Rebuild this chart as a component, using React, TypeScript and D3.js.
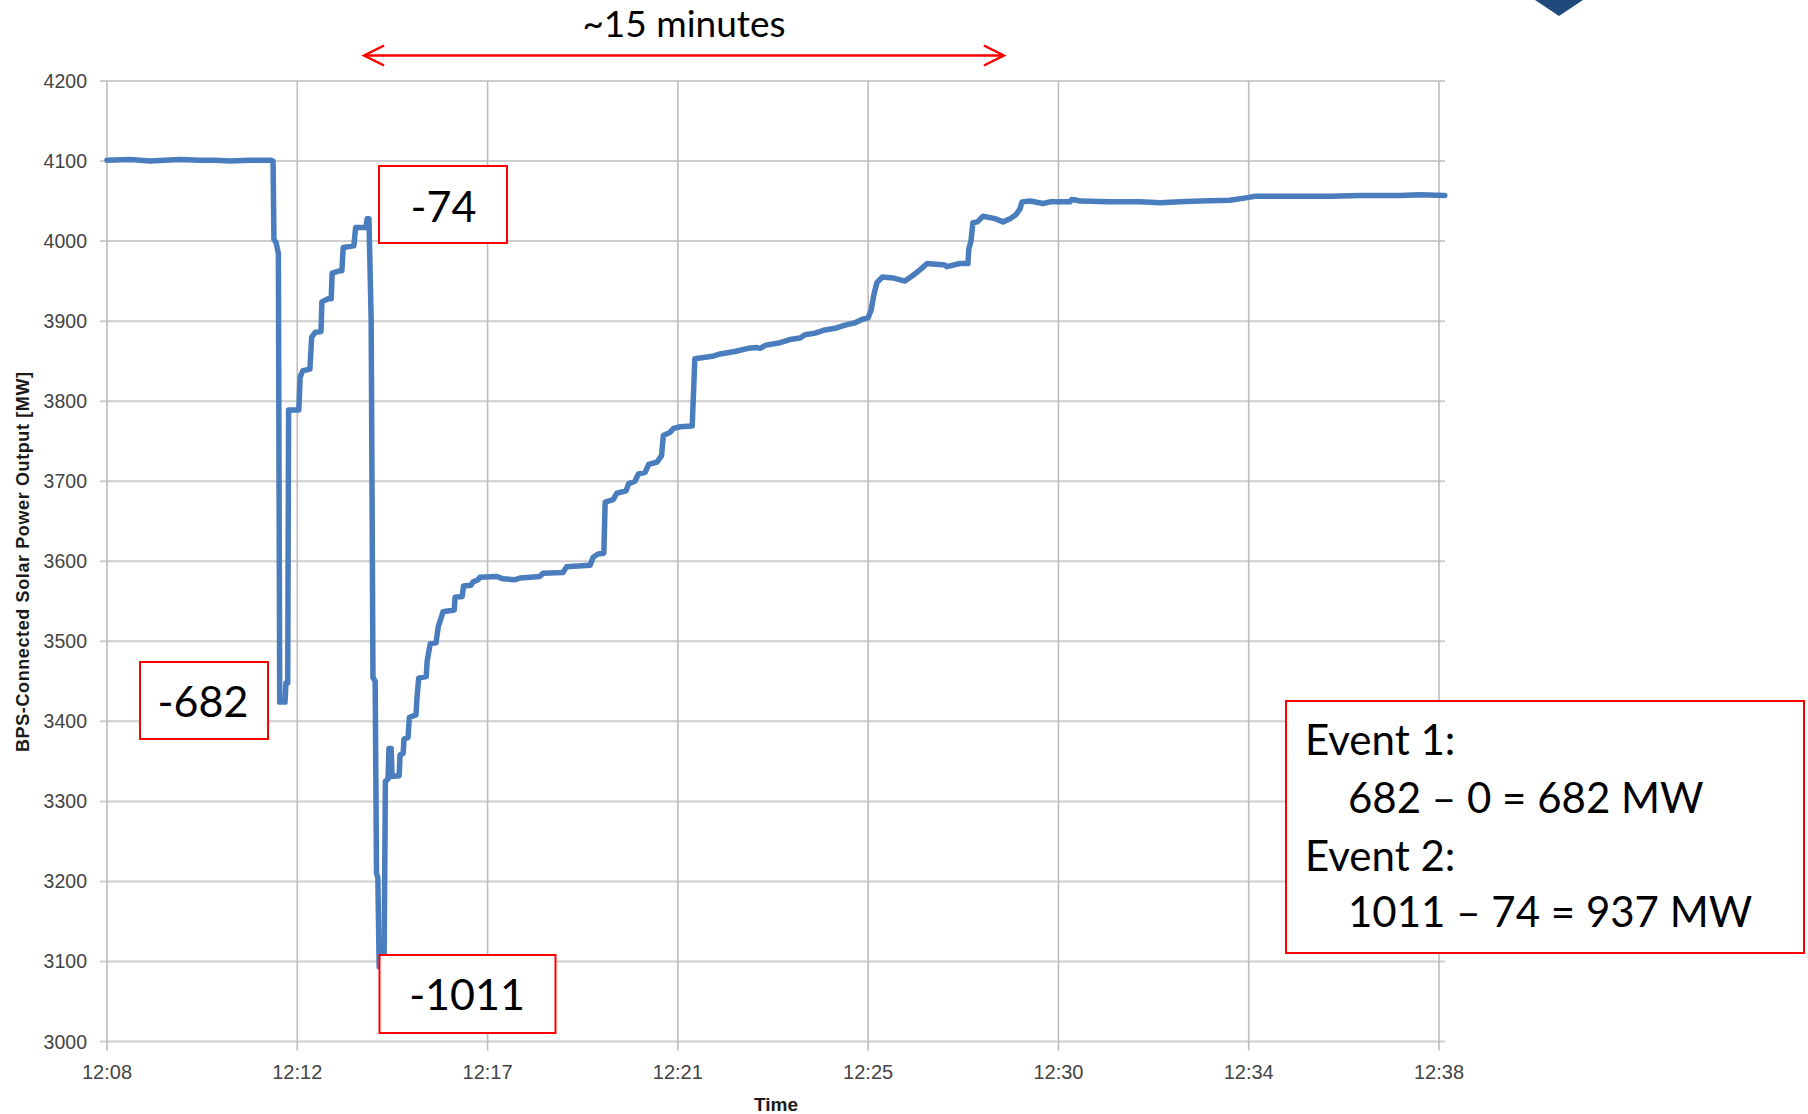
import React from "react";
import * as d3 from "d3";

// ---------- data ----------
const timeTickLabels = ["12:08", "12:12", "12:17", "12:21", "12:25", "12:30", "12:34", "12:38"];
const powerTicks = [3000, 3100, 3200, 3300, 3400, 3500, 3600, 3700, 3800, 3900, 4000, 4100, 4200];

// minutes after 12:08
const minutes = [
  0, 0.52, 0.97, 1.31, 1.64, 2.1, 2.43, 2.77, 3.22, 3.69, 3.74, 3.76, 3.81, 3.86, 3.89,
  4.01, 4.03, 4.07, 4.09, 4.32, 4.35, 4.41, 4.57, 4.61, 4.69, 4.82, 4.84, 4.98, 5.05, 5.07,
  5.25, 5.29, 5.32, 5.56, 5.6, 5.83, 5.86, 5.9, 5.95, 5.99, 6.04, 6.07, 6.1, 6.13, 6.24,
  6.27, 6.33, 6.35, 6.4, 6.42, 6.58, 6.6, 6.67, 6.69, 6.78, 6.81, 6.96, 6.98, 7.02, 7.19,
  7.21, 7.28, 7.41, 7.46, 7.57, 7.82, 7.84, 8.0, 8.03, 8.2, 8.24, 8.36, 8.4, 8.78, 8.92,
  9.19, 9.3, 9.75, 9.82, 10.27, 10.35, 10.88, 10.95, 11.06, 11.19, 11.22, 11.4, 11.48, 11.69, 11.75,
  11.89, 11.97, 12.12, 12.2, 12.39, 12.49, 12.53, 12.68, 12.76, 12.91, 13.18, 13.24, 13.63, 13.81, 14.14,
  14.44, 14.64, 14.71, 14.84, 15.16, 15.38, 15.61, 15.72, 15.95, 16.17, 16.4, 16.62, 16.85, 17.0, 17.14,
  17.21, 17.28, 17.34, 17.46, 17.7, 17.97, 18.15, 18.33, 18.47, 18.87, 18.92, 19.21, 19.39, 19.41, 19.46,
  19.5, 19.6, 19.73, 20.0, 20.18, 20.34, 20.47, 20.56, 20.61, 20.79, 21.08, 21.24, 21.69, 21.73, 21.85,
  21.91, 22.59, 23.27, 23.72, 24.17, 24.62, 25.29, 25.65, 25.86, 26.19, 26.87, 27.55, 28.22, 29.12, 29.57,
  30.13,
];

// BPS-connected solar power output, MW
const outputMW = [
  4101, 4102, 4100, 4101, 4102, 4101, 4101, 4100, 4101, 4101, 4100, 4002, 3998, 3984, 3424,
  3424, 3448, 3448, 3789, 3789, 3830, 3838, 3840, 3880, 3886, 3887, 3924, 3928, 3928, 3960,
  3963, 3963, 3992, 3994, 4017, 4017, 4028, 4028, 3900, 3455, 3450, 3210, 3205, 3093, 3093,
  3325, 3328, 3366, 3366, 3331, 3332, 3358, 3360, 3378, 3380, 3405, 3408, 3428, 3454, 3456,
  3475, 3497, 3498, 3518, 3537, 3539, 3555, 3556, 3569, 3570, 3574, 3577, 3580, 3581, 3578,
  3577, 3579, 3581, 3585, 3586, 3593, 3595, 3605, 3609, 3610, 3674, 3677, 3685, 3688, 3697,
  3700, 3709, 3711, 3721, 3724, 3732, 3757, 3761, 3766, 3768, 3769, 3853, 3856, 3859, 3862,
  3866, 3867, 3866, 3870, 3873, 3877, 3879, 3883, 3885, 3889, 3891, 3895, 3898, 3902, 3904,
  3914, 3935, 3948, 3955, 3954, 3950, 3957, 3965, 3972, 3970, 3968, 3972, 3972, 3990, 4000,
  4023, 4024, 4031, 4028, 4024, 4028, 4033, 4040, 4049, 4050, 4047, 4049, 4049, 4052, 4051,
  4050, 4049, 4049, 4048, 4049, 4050, 4051, 4054, 4056, 4056, 4056, 4056, 4057, 4057, 4058,
  4057,
];

const dropLabels = ["-682", "-74", "-1011"];
const eventLines = ["Event 1:", "682 \u2013 0 = 682 MW", "Event 2:", "1011 \u2013 74 = 937 MW"];
const spanLabel = "~15 minutes";
const spanMinutes = [5.79, 20.2];

// ---------- layout ----------
const W = 1808;
const H = 1114;
const plot = { left: 107, right: 1439, top: 81, bottom: 1041.5 };
const axisFont = "'Liberation Sans', Arial, sans-serif";
const noteFont = "Lato, 'Open Sans', sans-serif";
const lineBlue = "#4a7dbd";
const red = "#ff0000";

const dropBoxes = [
  { x: 140, y: 662, w: 128, h: 77, tx: 203, ty: 717 },
  { x: 379, y: 166, w: 128, h: 77, tx: 443.5, ty: 221.5 },
  { x: 379.5, y: 955, w: 176, h: 78, tx: 467, ty: 1010 },
];
const eventBox = { x: 1286, y: 701, w: 518, h: 252 };
const eventText = [
  { x: 1305, y: 755 },
  { x: 1348, y: 813 },
  { x: 1305, y: 871 },
  { x: 1348, y: 927 },
];

export default function App() {
  const x = d3.scaleLinear().domain([0, 30]).range([plot.left, plot.right]);
  const y = d3.scaleLinear().domain([3000, 4200]).range([plot.bottom, plot.top]);
  const tickMinutes = timeTickLabels.map((_, i) => (i * 30) / (timeTickLabels.length - 1));

  const pts: [number, number][] = minutes.map((m, i) => [m, outputMW[i]]);
  const path = d3
    .line<[number, number]>()
    .x((d) => x(d[0]))
    .y((d) => y(d[1]))(pts) as string;

  const ay = 55.5;
  const ax0 = x(spanMinutes[0]);
  const ax1 = x(spanMinutes[1]);

  return (
    <div style={{ position: "absolute", left: 0, top: 0, width: W, height: H, background: "#fff" }}>
      <svg width={W} height={H} viewBox={`0 0 ${W} ${H}`} style={{ display: "block" }}>
        <rect x={0} y={0} width={W} height={H} fill="#fff" />

        {/* horizontal grid */}
        {powerTicks.map((v) => (
          <line
            key={"h" + v}
            x1={plot.left - 7}
            x2={plot.right + 6}
            y1={y(v)}
            y2={y(v)}
            stroke="#cdcdcd"
            strokeWidth={2}
          />
        ))}
        {/* vertical grid */}
        {tickMinutes.map((m, i) => (
          <line
            key={"v" + i}
            x1={x(m)}
            x2={x(m)}
            y1={plot.top}
            y2={plot.bottom + 9}
            stroke="#bdbdbd"
            strokeWidth={1.6}
          />
        ))}

        {/* y tick labels */}
        {powerTicks.map((v) => (
          <text
            key={"yl" + v}
            x={87}
            y={y(v) + 7}
            textAnchor="end"
            fontFamily={axisFont}
            fontSize={19.5}
            fill="#444"
          >
            {v}
          </text>
        ))}
        {/* x tick labels */}
        {tickMinutes.map((m, i) => (
          <text
            key={"xl" + i}
            x={x(m)}
            y={1079}
            textAnchor="middle"
            fontFamily={axisFont}
            fontSize={20}
            fill="#444"
          >
            {timeTickLabels[i]}
          </text>
        ))}

        {/* axis titles */}
        <text
          transform={`translate(28.5, 562) rotate(-90)`}
          textAnchor="middle"
          fontFamily={axisFont}
          fontWeight="bold"
          fontSize={18}
          fill="#1a1a1a"
          textLength={380}
          lengthAdjust="spacing"
        >
          BPS-Connected Solar Power Output [MW]
        </text>
        <text
          x={(plot.left + plot.right) / 2 + 3}
          y={1111}
          textAnchor="middle"
          fontFamily={axisFont}
          fontWeight="bold"
          fontSize={19}
          fill="#1a1a1a"
        >
          Time
        </text>

        {/* data line */}
        <path d={path} fill="none" stroke={lineBlue} strokeWidth={5.5} strokeLinejoin="round" strokeLinecap="round" />

        {/* ~15 minutes arrow */}
        <line x1={ax0} x2={ax1} y1={ay} y2={ay} stroke={red} strokeWidth={2.5} />
        <polyline points={`${ax0 + 20},${ay - 10} ${ax0},${ay} ${ax0 + 20},${ay + 10}`} fill="none" stroke={red} strokeWidth={2.5} />
        <polyline points={`${ax1 - 20},${ay - 10} ${ax1},${ay} ${ax1 - 20},${ay + 10}`} fill="none" stroke={red} strokeWidth={2.5} />
        <text x={684} y={36.5} textAnchor="middle" fontFamily={noteFont} fontSize={37} fill="#000">
          {spanLabel}
        </text>

        {/* drop boxes */}
        {dropBoxes.map((b, i) => (
          <g key={"db" + i}>
            <rect x={b.x} y={b.y} width={b.w} height={b.h} fill="#fff" stroke={red} strokeWidth={2} />
            <text x={b.tx} y={b.ty} textAnchor="middle" fontFamily={noteFont} fontSize={43} fill="#000">
              {dropLabels[i]}
            </text>
          </g>
        ))}

        {/* event box */}
        <rect x={eventBox.x} y={eventBox.y} width={eventBox.w} height={eventBox.h} fill="#fff" stroke={red} strokeWidth={2} />
        {eventLines.map((t, i) => (
          <text key={"ev" + i} x={eventText[i].x} y={eventText[i].y} fontFamily={noteFont} fontSize={42} fill="#000">
            {t}
          </text>
        ))}

        {/* logo fragment top-right */}
        <polygon points="1535,0 1583,0 1559,16" fill="#1f4a7c" />
      </svg>
    </div>
  );
}
